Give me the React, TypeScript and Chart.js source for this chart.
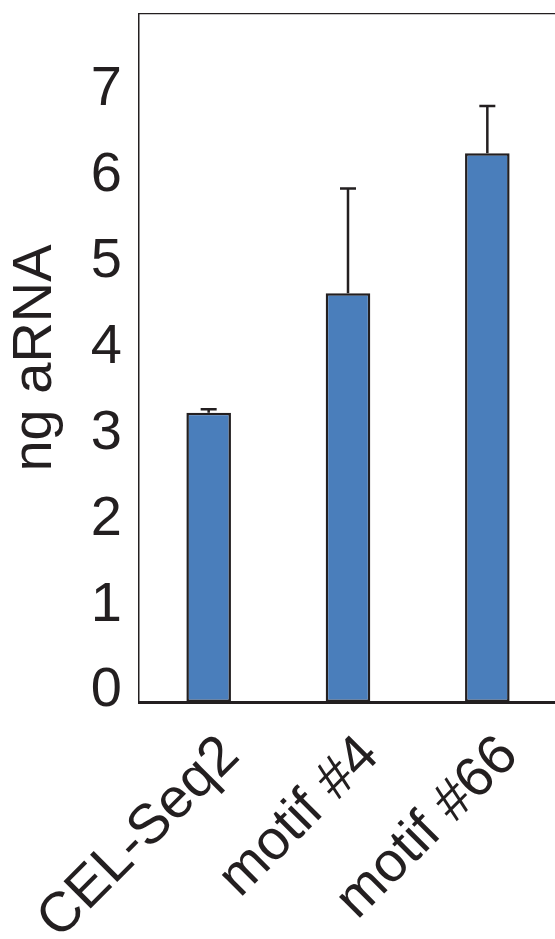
import { useEffect, useRef } from "react";
import { Chart, registerables } from "chart.js";

Chart.register(...registerables);

const categories = ["CEL-Seq2", "motif #4", "motif #66"];
const means = [3.24, 4.63, 6.26];
const errorsUp = [0.04, 1.22, 0.55];
const yTicks = [0, 1, 2, 3, 4, 5, 6, 7];
const yTitle = "ng aRNA";
const Y_MIN = -0.128;
const Y_MAX = 7.88;

const INK = "#231f20";
const BAR_FILL = "#4a7ebb";
const FONT = '"Liberation Sans", Arial, Helvetica, sans-serif';

const errorBarPlugin = {
  id: "errorBars",
  afterDatasetsDraw(chart: any) {
    const { ctx } = chart;
    const y = chart.scales.y;
    const meta = chart.getDatasetMeta(0);
    ctx.save();
    ctx.strokeStyle = INK;
    ctx.lineWidth = 2.5;
    meta.data.forEach((bar: any, i: number) => {
      const top = y.getPixelForValue(means[i] + errorsUp[i]);
      ctx.beginPath();
      ctx.moveTo(bar.x, bar.y);
      ctx.lineTo(bar.x, top);
      ctx.moveTo(bar.x - 8, top);
      ctx.lineTo(bar.x + 8, top);
      ctx.stroke();
    });
    ctx.restore();
  },
};

export default function App() {
  const ref = useRef<HTMLCanvasElement | null>(null);

  useEffect(() => {
    if (!ref.current) return;
    const chart = new Chart(ref.current, {
      type: "bar",
      data: {
        labels: categories,
        datasets: [
          {
            data: means,
            backgroundColor: BAR_FILL,
            borderColor: INK,
            borderWidth: 2.5,
            borderSkipped: false,
            base: Y_MIN,
            barPercentage: 0.32,
            categoryPercentage: 1,
            xAxisID: "x",
            yAxisID: "y",
          } as any,
        ],
      },
      options: {
        responsive: false,
        animation: false,
        layout: { padding: { top: 14, left: 0, right: 0, bottom: 0 } },
        plugins: {
          legend: { display: false },
          tooltip: { enabled: false },
          title: { display: false },
        },
        scales: {
          x: {
            type: "category",
            position: "bottom",
            offset: true,
            grid: { display: false, drawTicks: false },
            border: { display: true, color: INK, width: 3 },
            ticks: {
              autoSkip: false,
              minRotation: 45,
              maxRotation: 45,
              padding: 21,
              labelOffset: 22,
              color: INK,
              font: { family: FONT, size: 56 },
            },
            afterFit(s: any) {
              s.height = 237;
              s.paddingLeft = 0;
              s.paddingRight = 0;
            },
          },
          x2: {
            type: "category",
            position: "top",
            labels: categories,
            offset: true,
            grid: { display: false, drawTicks: false },
            border: { display: true, color: INK, width: 1.3 },
            ticks: { display: false },
            afterFit(s: any) {
              s.height = 0;
              s.paddingLeft = 0;
              s.paddingRight = 0;
            },
          },
          y: {
            type: "linear",
            min: Y_MIN,
            max: Y_MAX,
            grid: { display: false, drawTicks: false },
            border: { display: true, color: INK, width: 1.5 },
            afterBuildTicks(s: any) {
              s.ticks = yTicks.map((v) => ({ value: v }));
            },
            ticks: {
              padding: 17,
              color: INK,
              font: { family: FONT, size: 56 },
            },
            title: {
              display: true,
              text: yTitle,
              color: INK,
              font: { family: FONT, size: 56 },
              padding: { top: 2, bottom: 0 },
            },
            afterFit(s: any) {
              s.width = 139;
              s.paddingTop = 0;
              s.paddingBottom = 0;
            },
          },
        } as any,
      },
      plugins: [errorBarPlugin],
    });
    return () => chart.destroy();
  }, []);

  return (
    <div
      style={{
        position: "absolute",
        left: 0,
        top: 0,
        width: 555,
        height: 939,
        overflow: "hidden",
        background: "#fff",
      }}
    >
      <canvas ref={ref} width={557} height={939} style={{ display: "block" }} />
    </div>
  );
}
